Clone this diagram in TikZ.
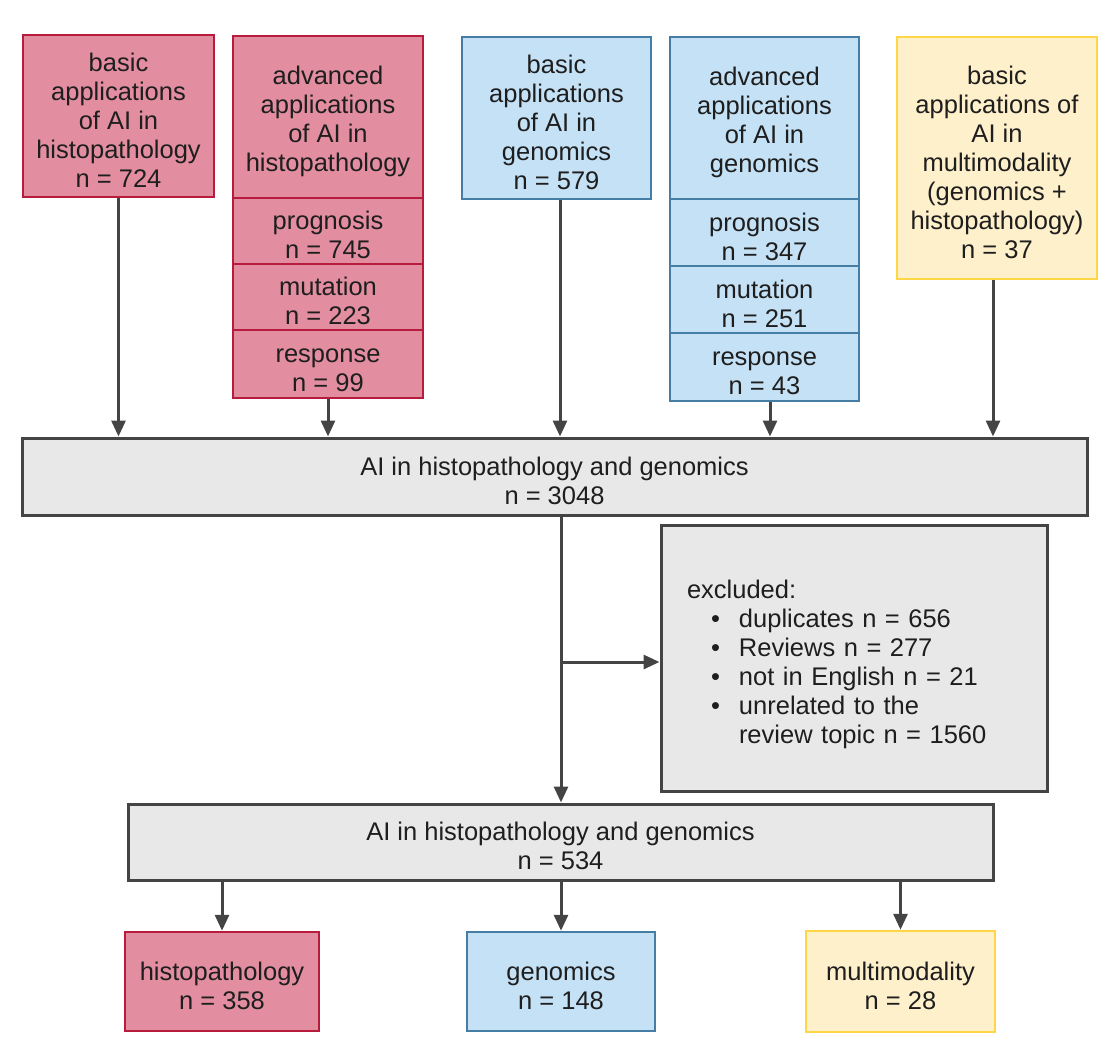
\documentclass[tikz,border=0pt]{standalone}
\usepackage{fontspec}
\setmainfont{Liberation Sans}
\usetikzlibrary{arrows.meta}
\definecolor{pinkfill}{HTML}{E38EA0}
\definecolor{pinkline}{HTML}{B71C3C}
\definecolor{bluefill}{HTML}{C5E1F5}
\definecolor{blueline}{HTML}{467DA5}
\definecolor{yelfill}{HTML}{FFF0CC}
\definecolor{yelline}{HTML}{FFD746}
\definecolor{grayfill}{HTML}{E8E8E8}
\definecolor{grayline}{HTML}{444444}
\definecolor{txt}{HTML}{1E1E1E}
\tikzset{
  base/.style={rectangle, inner sep=0pt, align=center, text=txt,
    font=\fontsize{25.5}{29}\selectfont},
  pinkbox/.style={base, fill=pinkfill, draw=pinkline, line width=2.5pt},
  bluebox/.style={base, fill=bluefill, draw=blueline, line width=2.5pt},
  yelbox/.style={base, fill=yelfill, draw=yelline, line width=2.5pt},
  graybox/.style={base, fill=grayfill, draw=grayline, line width=3pt},
  arr/.style={draw=grayline, line width=3pt, -{Triangle[width=14pt,length=16pt]}},
}
\newcommand{\fs}{\rule{0pt}{27pt}}
\newcommand{\bitem}[1]{\hspace*{24pt}\makebox[28pt][l]{\textbullet}#1}
\begin{document}
\begin{tikzpicture}[x=1pt,y=-1pt]
\useasboundingbox (0,0) rectangle (1112,1050);
% top row
\node[pinkbox, minimum width=191, minimum height=162] (A) at (118.5,116)
  {\fs basic\\applications\\of AI in\\histopathology\\n = 724};
\node[pinkbox, minimum width=190, minimum height=162] (B) at (328,117)
  {\fs advanced\\applications\\of AI in\\histopathology};
\node[pinkbox, minimum width=190, minimum height=66] (Bp) at (328,231)
  {\fs prognosis\\n = 745};
\node[pinkbox, minimum width=190, minimum height=66] (Bm) at (328,297)
  {\fs mutation\\n = 223};
\node[pinkbox, minimum width=190, minimum height=68] (Br) at (328,364)
  {\fs response\\n = 99};
\node[bluebox, minimum width=189, minimum height=162] (C) at (556.5,118)
  {\fs basic\\applications\\of AI in\\genomics\\n = 579};
\node[bluebox, minimum width=189, minimum height=162] (D) at (764.5,118)
  {\fs advanced\\applications\\of AI in\\genomics};
\node[bluebox, minimum width=189, minimum height=67] (Dp) at (764.5,232.5)
  {\fs prognosis\\n = 347};
\node[bluebox, minimum width=189, minimum height=67] (Dm) at (764.5,299.5)
  {\fs mutation\\n = 251};
\node[bluebox, minimum width=189, minimum height=68] (Dr) at (764.5,367)
  {\fs response\\n = 43};
\node[yelbox, minimum width=200, minimum height=242] (E) at (997,158)
  {\fs basic\\applications of\\AI in\\multimodality\\(genomics +\\histopathology)\\n = 37};
% middle
\node[graybox, minimum width=1065, minimum height=77] (M1) at (554.5,476.5)
  {\fs AI in histopathology and genomics\\n = 3048};
\node[graybox, minimum width=386, minimum height=266, text width=334,
  align=left] (X) at (854,658)
  {\rule{0pt}{31pt}excluded:\\
   \bitem{duplicates n = 656}\\
   \bitem{Reviews n = 277}\\
   \bitem{not in English n = 21}\\
   \bitem{unrelated to the}\\
   \hspace*{52pt}review topic n = 1560};
\node[graybox, minimum width=865, minimum height=76] (M2) at (560.5,842)
  {\fs AI in histopathology and genomics\\n = 534};
% bottom
\node[pinkbox, minimum width=194, minimum height=99] (H) at (222,981.5)
  {\fs histopathology\\n = 358};
\node[bluebox, minimum width=188, minimum height=99] (G) at (561,981.5)
  {\fs genomics\\n = 148};
\node[yelbox, minimum width=189, minimum height=101] (Mu) at (900.5,981.5)
  {\fs multimodality\\n = 28};
% arrows top
\draw[arr] (A.south) -- (A.south |- M1.north);
\draw[arr] (Br.south) -- (Br.south |- M1.north);
\draw[arr] ([xshift=3.5pt]C.south) -- ([xshift=3.5pt]C.south |- M1.north);
\draw[arr] ([xshift=5.5pt]Dr.south) -- ([xshift=5.5pt]Dr.south |- M1.north);
\draw[arr] ([xshift=-4pt]E.south) -- ([xshift=-4pt]E.south |- M1.north);
% middle
\coordinate (br) at (561,662);
\draw[arr] (br |- M1.south) -- (br |- M2.north);
\draw[arr] (br) -- (br -| X.west);
% bottom arrows
\draw[arr] (H.north |- M2.south) -- (H.north);
\draw[arr] (G.north |- M2.south) -- (G.north);
\draw[arr] (Mu.north |- M2.south) -- (Mu.north);
\end{tikzpicture}
\end{document}
